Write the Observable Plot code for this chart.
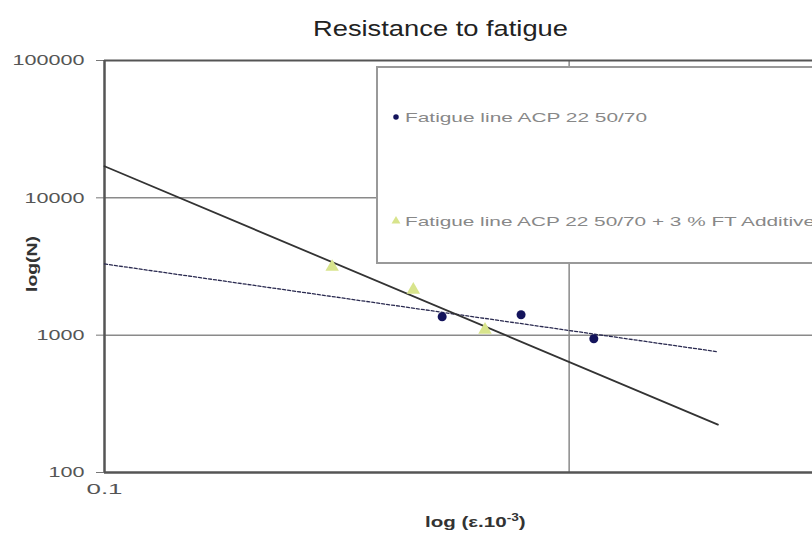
<!DOCTYPE html>
<html>
<head>
<meta charset="utf-8">
<script src="https://cdn.jsdelivr.net/npm/d3@7"></script>
<script src="https://cdn.jsdelivr.net/npm/@observablehq/plot@0.6"></script>
<style>
  html, body { margin: 0; padding: 0; background: #fff; }
  #chart { width: 812px; height: 534px; position: relative; }
</style>
</head>
<body>
<div id="chart"></div>
<script>
// Series 1: Fatigue line ACP 22 50/70 (navy dots)
const baseStrain = [0.533, 0.788, 1.13];
const baseCycles = [1361, 1409, 942];
// Series 2: Fatigue line ACP 22 50/70 + 3 % FT Additive (yellow-green triangles)
const ftStrain = [0.309, 0.462, 0.659];
const ftCycles = [3140, 2138, 1094];
// Trend line end points
const baseTrendX = [0.1, 2.09];
const baseTrendY = [3300, 757];
const ftTrendX = [0.1, 2.09];
const ftTrendY = [16990, 223];
// Axes
const xDomain = [0.1, 3.34];
const yDomain = [100, 100000];
const yTicks = [100, 1000, 10000, 100000];
const xTickLabels = [0.1];
const xGrid = [1];
const yGrid = [1000, 10000];
const seriesNames = ["Fatigue line ACP 22 50/70", "Fatigue line ACP 22 50/70 + 3 % FT Additive"];

const basePts = baseStrain.map((x, i) => ({x, y: baseCycles[i]}));
const ftPts = ftStrain.map((x, i) => ({x, y: ftCycles[i]}));
const baseTrend = baseTrendX.map((x, i) => ({x, y: baseTrendY[i]}));
const ftTrend = ftTrendX.map((x, i) => ({x, y: ftTrendY[i]}));

const navy = "#14145c";
const lime = "#d8e48c";

const plot = Plot.plot({
  width: 812,
  height: 534,
  marginLeft: 104,
  marginRight: 0,
  marginTop: 60,
  marginBottom: 62,
  style: {fontFamily: "Arial, 'Liberation Sans', sans-serif", background: "#fff"},
  x: {type: "log", domain: xDomain, axis: null},
  y: {type: "log", domain: yDomain, axis: null},
  marks: [
    Plot.ruleY(yGrid, {stroke: "#8a8a8a", strokeWidth: 1.5}),
    Plot.ruleX(xGrid, {stroke: "#8a8a8a", strokeWidth: 1.5}),
    Plot.ruleY([yDomain[1]], {stroke: "#555", strokeWidth: 2}),
    Plot.axisY(yTicks, {tickFormat: d3.format("d"), tickSize: 8, stroke: "#777", fontSize: 15, fill: "#555", tickPadding: 12, label: null}),
    Plot.axisX(xTickLabels, {tickFormat: d => String(d), tickSize: 0, fontSize: 15, fill: "#555", tickPadding: 11, label: null}),
    Plot.ruleX([xDomain[0]], {stroke: "#555", strokeWidth: 2.5}),
    Plot.ruleY([yDomain[0]], {stroke: "#555", strokeWidth: 2.5}),
    Plot.line(baseTrend, {x: "x", y: "y", stroke: "#2a2a50", strokeWidth: 1.3, strokeDasharray: "3,2"}),
    Plot.line(ftTrend, {x: "x", y: "y", stroke: "#333", strokeWidth: 1.8}),
    Plot.dot(ftPts, {x: "x", y: "y", symbol: "triangle", r: 5, fill: lime, stroke: "none"}),
    Plot.dot(basePts, {x: "x", y: "y", r: 4.5, fill: navy, stroke: "none"})
  ]
});

const svg = d3.select(plot);
// stretch tick labels horizontally like the reference
svg.selectAll('g[aria-label="y-axis tick label"] text, g[aria-label="x-axis tick label"] text')
  .each(function() {
    const t = d3.select(this);
    t.attr("textLength", this.textContent.length * 12).attr("lengthAdjust", "spacingAndGlyphs");
  });

function addText(x, y, str, size, opts = {}) {
  const t = svg.append("text").attr("x", x).attr("y", y)
    .attr("text-anchor", opts.anchor || "start")
    .attr("font-size", size).attr("fill", opts.fill || "#333")
    .attr("font-weight", opts.weight || "normal");
  if (opts.len) t.attr("textLength", opts.len).attr("lengthAdjust", "spacingAndGlyphs");
  if (opts.transform) t.attr("transform", opts.transform);
  t.text(str);
  return t;
}
// Title
addText(313, 36, "Resistance to fatigue", 22, {len: 255, fill: "#222", weight: 500});
// Y label
addText(0, 0, "log(N)", 14, {anchor: "middle", weight: "bold", len: 56, transform: "translate(37,264) rotate(-90)"});
// X label (stretched horizontally)
const xl = svg.append("text").attr("x", 0).attr("y", 0).attr("text-anchor", "start")
  .attr("transform", "translate(425,527) scale(1.37,1)")
  .attr("font-size", 15).attr("font-weight", "bold").attr("fill", "#333");
xl.append("tspan").text("log (ε.10");
xl.append("tspan").attr("dy", -6).attr("font-size", 10).text("-3");
xl.append("tspan").attr("dy", 6).text(")");
// Legend
const lg = svg.append("g");
lg.append("rect").attr("x", 377).attr("y", 67).attr("width", 460).attr("height", 196)
  .attr("fill", "#fff").attr("stroke", "#999").attr("stroke-width", 2);
const entries = [
  {name: seriesNames[0], y: 117, color: navy, sym: d3.symbolCircle, size: 24, len: 242},
  {name: seriesNames[1], y: 221, color: lime, sym: d3.symbolTriangle, size: 34, len: 410}
];
entries.forEach(e => {
  lg.append("path").attr("d", d3.symbol(e.sym, e.size)()).attr("transform", `translate(396,${e.y})`).attr("fill", e.color);
  lg.append("text").attr("x", 405).attr("y", e.y + 5).attr("text-anchor", "start")
    .attr("font-size", 13).attr("fill", "#888")
    .attr("textLength", e.len).attr("lengthAdjust", "spacingAndGlyphs").text(e.name);
});

document.getElementById("chart").appendChild(plot);
</script>
</body>
</html>
